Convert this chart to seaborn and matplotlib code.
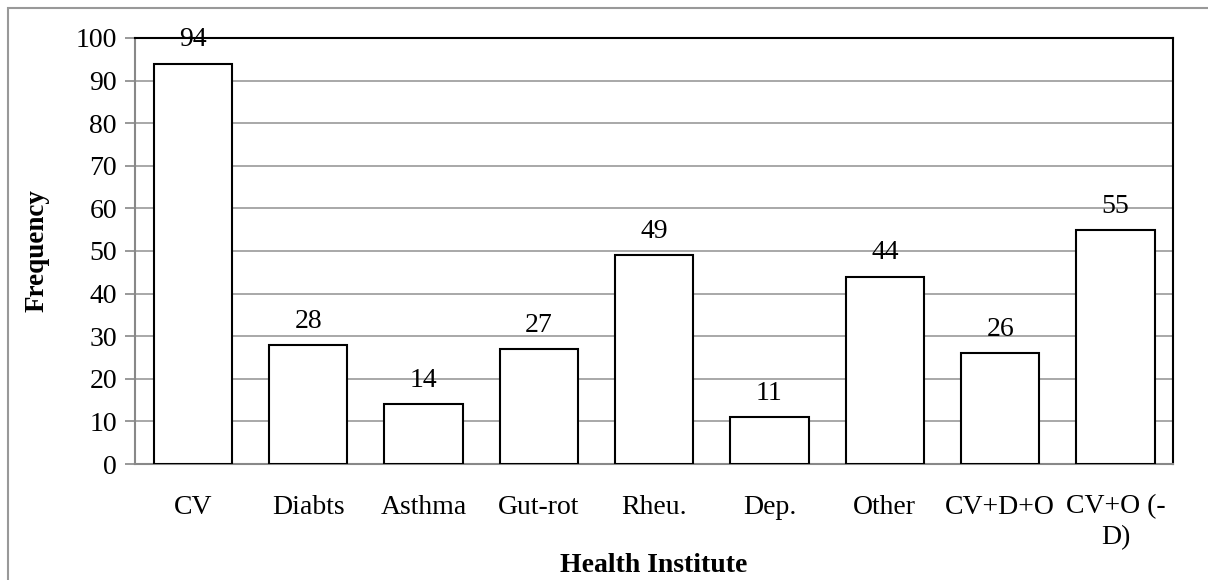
import matplotlib
matplotlib.use("Agg")
import matplotlib.pyplot as plt
import seaborn as sns
import pandas as pd
from matplotlib.patches import Rectangle

categories = ["CV", "Diabts", "Asthma", "Gut-rot", "Rheu.", "Dep.", "Other", "CV+D+O", "CV+O (-\nD)"]
frequency = [94, 28, 14, 27, 49, 11, 44, 26, 55]
y_ticks = list(range(0, 101, 10))

df = pd.DataFrame({"category": categories, "frequency": frequency})

sns.set_style("white")
plt.rcParams["font.family"] = ["Liberation Serif", "DejaVu Serif"]
plt.rcParams["text.color"] = "black"
plt.rcParams["xtick.color"] = "black"
plt.rcParams["ytick.color"] = "black"
plt.rcParams["axes.labelcolor"] = "black"

fig = plt.figure(figsize=(12.08, 5.8), dpi=100)
ax = fig.add_axes([0.1118, 0.2, 0.8594, 0.7345])

sns.barplot(data=df, x="category", y="frequency", color="white",
            edgecolor="black", linewidth=1.5, width=0.68, ax=ax, zorder=3)

for p, v in zip(ax.patches, frequency):
    ax.annotate(str(v), (p.get_x() + p.get_width() / 2, p.get_height()),
                xytext=(0, 8), textcoords="offset points",
                ha="center", va="bottom", fontsize=20, zorder=4)

ax.set_ylim(0, 100)
ax.set_xlim(-0.5, len(categories) - 0.5)
ax.set_yticks(y_ticks)
ax.tick_params(axis="y", labelsize=20, length=7, width=1.2, color="#888888",
               labelcolor="black", direction="out", pad=6, left=True)
ax.yaxis.grid(True, color="#999999", linewidth=1.2, zorder=0)
ax.set_axisbelow(True)

# x ticks sit between categories, labels at centers
ax.set_xticks([i for i in range(len(categories))])
ax.set_xticklabels(categories, fontsize=20, va="top", linespacing=1.27)
ax.tick_params(axis="x", length=0, pad=22, labelcolor="black")
ax.set_xticks([i - 0.5 for i in range(len(categories) + 1)], minor=True)
ax.tick_params(axis="x", which="minor", length=7, width=1.2, color="#888888",
               direction="out")

for side in ["left", "bottom"]:
    ax.spines[side].set_color("#888888")
    ax.spines[side].set_linewidth(1.5)
for side in ["top", "right"]:
    ax.spines[side].set_visible(True)
    ax.spines[side].set_color("black")
    ax.spines[side].set_linewidth(1.5)

ax.set_xlabel("Health Institute", fontsize=20, fontweight="bold", labelpad=2)
ax.set_ylabel("Frequency", fontsize=19.5, fontweight="bold", labelpad=19)

# outer chart border
fig.patches.append(Rectangle((8 / 1208, -0.05), 1.1, 1 - 8 / 580 + 0.05,
                             transform=fig.transFigure, fill=False,
                             edgecolor="#999999", linewidth=1.5))

fig.savefig("out.png", dpi=100)
